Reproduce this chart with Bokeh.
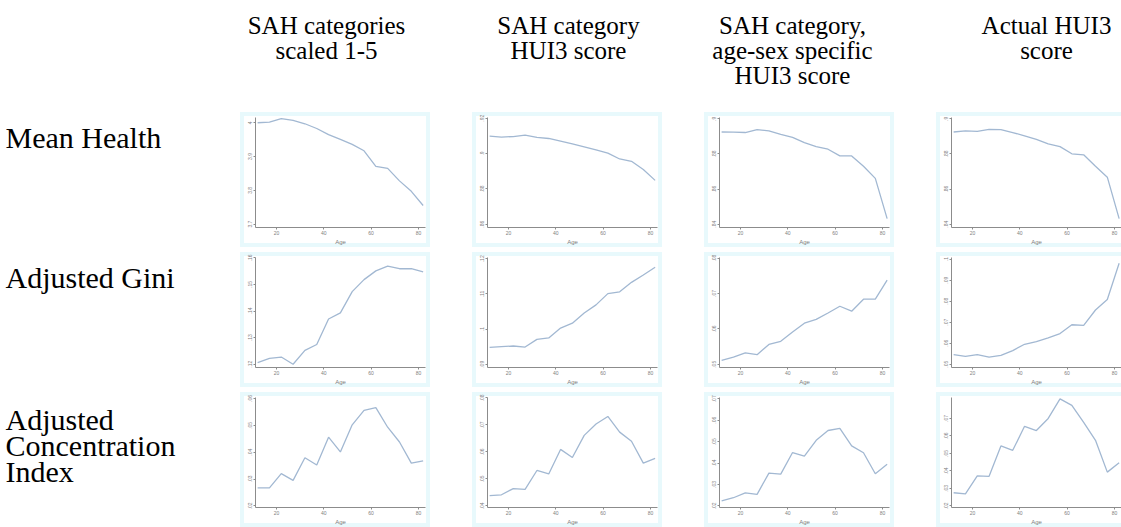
from bokeh.plotting import figure
from bokeh.layouts import column, row
from bokeh.models import Range1d, FixedTicker, Spacer
from bokeh.embed import file_html
from bokeh.resources import INLINE
from bokeh.core.properties import value

# ---------------- data ----------------
ages = [12, 17, 22, 27, 32, 37, 42, 47, 52, 57, 62, 67, 72, 77, 82]

col_titles = [["SAH categories", "scaled 1-5"],
              ["SAH category", "HUI3 score"],
              ["SAH category,", "age-sex specific", "HUI3 score"],
              ["Actual HUI3", "score"]]
row_titles = [["Mean Health"], ["Adjusted Gini"], ["Adjusted", "Concentration", "Index"]]

# Mean health
mean_sah_scaled = [4.000, 4.002, 4.012, 4.007, 3.997, 3.983, 3.965, 3.951, 3.936, 3.917, 3.871, 3.865, 3.828, 3.797, 3.755]
mean_sah_hui3 = [.9098, .9093, .9096, .9104, .9091, .9085, .9070, .9054, .9037, .9020, .9002, .8969, .8956, .8909, .8848]
mean_sah_agesex = [.8925, .8924, .8922, .8939, .8931, .8911, .8894, .8864, .8842, .8827, .8789, .8789, .8730, .8661, .8432]
mean_actual_hui3 = [.8925, .8931, .8929, .8940, .8939, .8922, .8903, .8883, .8857, .8842, .8801, .8795, .8730, .8668, .8432]
# Adjusted Gini
gini_sah_scaled = [.1206, .1222, .1227, .1200, .1252, .1274, .1370, .1393, .1473, .1518, .1551, .1569, .1559, .1559, .1547]
gini_sah_hui3 = [.0948, .0950, .0952, .0949, .0971, .0975, .1003, .1017, .1046, .1069, .1101, .1106, .1133, .1154, .1176]
gini_sah_agesex = [.0511, .0520, .0532, .0527, .0556, .0565, .0591, .0616, .0627, .0645, .0664, .0650, .0684, .0684, .0738]
gini_actual_hui3 = [.0546, .0538, .0546, .0534, .0542, .0565, .0595, .0608, .0626, .0646, .0688, .0685, .0758, .0808, .0980]
# Adjusted concentration index
ci_sah_scaled = [.0267, .0267, .0320, .0295, .0379, .0352, .0456, .0401, .0502, .0556, .0566, .0493, .0438, .0359, .0368]
ci_sah_hui3 = [.0438, .0441, .0464, .0461, .0531, .0518, .0609, .0579, .0661, .0703, .0731, .0673, .0639, .0558, .0576]
ci_sah_agesex = [.0223, .0238, .0261, .0254, .0353, .0348, .0449, .0432, .0506, .0552, .0562, .0480, .0448, .0350, .0394]
ci_actual_hui3 = [.0275, .0269, .0372, .0369, .0543, .0518, .0655, .0631, .0700, .0812, .0775, .0678, .0575, .0393, .0447]

x_ticks = [20, 40, 60, 80]
x_tick_labels = ["20", "40", "60", "80"]

y_ticks = [
    [[3.7, 3.8, 3.9, 4.0], [.86, .88, .90, .92], [.84, .86, .88, .90], [.84, .86, .88, .90]],
    [[.12, .13, .14, .15, .16], [.09, .10, .11, .12], [.05, .06, .07, .08], [.05, .06, .07, .08, .09, .10]],
    [[.02, .03, .04, .05, .06], [.04, .05, .06, .07, .08], [.02, .03, .04, .05, .06, .07], [.02, .03, .04, .05, .06, .07]],
]
y_tick_labels = [
    [["3.7", "3.8", "3.9", "4"], [".86", ".88", ".9", ".92"], [".84", ".86", ".88", ".9"], [".84", ".86", ".88", ".9"]],
    [[".12", ".13", ".14", ".15", ".16"], [".09", ".1", ".11", ".12"], [".05", ".06", ".07", ".08"], [".05", ".06", ".07", ".08", ".09", ".1"]],
    [[".02", ".03", ".04", ".05", ".06"], [".04", ".05", ".06", ".07", ".08"], [".02", ".03", ".04", ".05", ".06", ".07"], [".02", ".03", ".04", ".05", ".06", ".07"]],
]

series = [
    [mean_sah_scaled, mean_sah_hui3, mean_sah_agesex, mean_actual_hui3],
    [gini_sah_scaled, gini_sah_hui3, gini_sah_agesex, gini_actual_hui3],
    [ci_sah_scaled, ci_sah_hui3, ci_sah_agesex, ci_actual_hui3],
]

# axis extents (styling of each small panel)
y_extents = [
    [(3.690, 4.0155), (.85814, .92037), (.83815, .90075), (.83815, .90075)],
    [(.11877, .16012), (.08909, .12037), (.04909, .08018), (.04846, .10077)],
    [(.01939, .06037), (.03939, .08012), (.01924, .07061), (.01906, .08199)],
]

# ---------------- styles ----------------
SERIF = "Liberation Serif"
SANS = "Liberation Sans"
FRAME = "#e8f9fc"
LINE = "#a2b8d2"
AXIS = "#8c8c8c"
TOTW, TOTH = 1121, 527
PW, PH, GAP = 190, 135, 42
VGAPS = [5, 5]
LABW = 240
HEADH = 112
LASTW = TOTW - LABW - 3 * (PW + GAP)
HEAD_CENTERS = [326, 568, 792, 1046]


def panel(r, c):
    last = c == 3
    w = LASTW if last else PW
    p = figure(width=w, height=PH, output_backend="svg", toolbar_location=None,
               x_range=Range1d(11.1, 83.0), y_range=Range1d(*y_extents[r][c]),
               min_border_left=15, min_border_right=0 if last else 5,
               min_border_top=5, min_border_bottom=18,
               border_fill_color=None, background_fill_color=None,
               outline_line_color=None)
    if last:
        shadow = ("inset 4px 0 0 0 %s, inset 0 4px 0 0 %s, inset 0 -4px 0 0 %s"
                  % (FRAME, FRAME, FRAME))
    else:
        shadow = "inset 0 0 0 4px " + FRAME
    p.styles = {"background-color": "white", "box-shadow": shadow}
    p.grid.visible = False
    p.line(ages, series[r][c], line_color=LINE, line_width=1.3)
    p.xaxis.ticker = FixedTicker(ticks=x_ticks)
    p.xaxis.major_label_overrides = dict(zip(x_ticks, x_tick_labels))
    p.yaxis.ticker = FixedTicker(ticks=y_ticks[r][c])
    p.yaxis.major_label_overrides = dict(zip(y_ticks[r][c], y_tick_labels[r][c]))
    p.yaxis.major_label_orientation = "vertical"
    p.xaxis.axis_label = "Age"
    for ax in (p.xaxis, p.yaxis):
        ax.axis_line_color = AXIS
        ax.axis_line_width = 1
        ax.major_tick_line_color = AXIS
        ax.major_tick_out = 2
        ax.major_tick_in = 0
        ax.minor_tick_line_color = None
        ax.major_label_text_font = SANS
        ax.major_label_text_font_size = "5px"
        ax.major_label_text_color = "#808080"
        ax.major_label_standoff = 1
        ax.axis_label_text_font = SANS
        ax.axis_label_text_font_size = "6px"
        ax.axis_label_text_font_style = "normal"
        ax.axis_label_text_color = "#808080"
        ax.axis_label_standoff = 1
    return p


def blank(w, h, xr, yr):
    p = figure(width=w, height=h, output_backend="svg", toolbar_location=None,
               x_range=Range1d(*xr), y_range=Range1d(*yr),
               min_border=0, border_fill_color="white", background_fill_color="white",
               outline_line_color=None)
    p.axis.visible = False
    p.grid.visible = False
    return p


# header with column titles (coordinates = page pixels)
header = blank(TOTW, HEADH, (0, TOTW), (HEADH, 0))
for cx, lines in zip(HEAD_CENTERS, col_titles):
    header.text(x=[cx] * len(lines), y=[25 + 25 * k for k in range(len(lines))], text=lines,
                text_font=value(SERIF), text_font_size="25px", text_align="center",
                text_baseline="alphabetic", text_color="black")

label_baselines = [[25], [24], [27, 59, 91]]

rows = []
for r in range(3):
    lab = blank(LABW, PH, (0, LABW), (PH, 0))
    lines = row_titles[r]
    lab.text(x=[5] * len(lines), y=label_baselines[r], text=lines, text_font=value(SERIF),
             text_font_size="30px", text_align="left", text_baseline="alphabetic",
             text_color="black")
    kids = [lab]
    for c in range(4):
        kids.append(panel(r, c))
        if c < 3:
            kids.append(Spacer(width=GAP, height=PH))
    rows.append(row(*kids, spacing=0))

layout = column(header, rows[0], Spacer(width=TOTW, height=VGAPS[0]), rows[1],
                Spacer(width=TOTW, height=VGAPS[1]), rows[2], spacing=0)

open("out.html", "w").write(file_html(layout, INLINE))
